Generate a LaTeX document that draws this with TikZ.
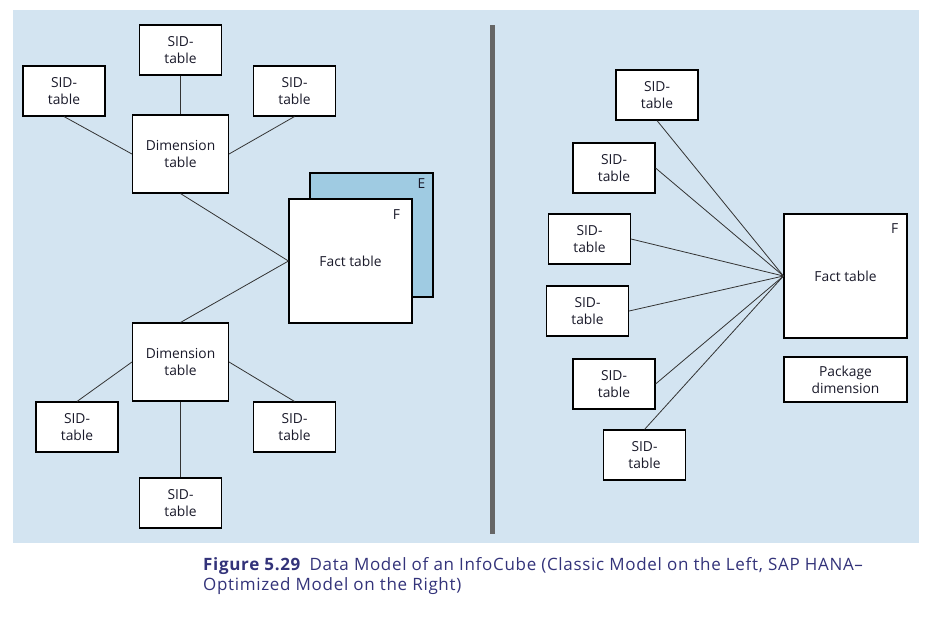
\documentclass[tikz,border=0pt]{standalone}
\usepackage{fontspec}
\setmainfont{Open Sans}
\newfontfamily\capfont[LetterSpace=4]{Open Sans}
\definecolor{bgblue}{HTML}{D3E4F1}
\definecolor{eblue}{HTML}{9FCBE2}
\definecolor{bar}{HTML}{666666}
\definecolor{capblue}{HTML}{33337A}
\definecolor{txt}{HTML}{1A1A2A}
\definecolor{conn}{HTML}{333333}
\begin{document}
\begin{tikzpicture}[x=1pt,y=-1pt,
  tbl/.style={draw=black,line width=1.1pt,fill=white,rectangle,inner sep=0pt,
    align=center,text=txt,font=\fontsize{13.8}{17}\selectfont},
  sid/.style={tbl,minimum width=82pt,minimum height=50pt},
  dimbox/.style={tbl,minimum width=96pt,minimum height=78pt},
  factbox/.style={tbl,minimum width=123pt,minimum height=124pt},
  lab/.style={text=txt,font=\fontsize{13.8}{17}\selectfont,inner sep=0pt},
  link/.style={draw=conn,line width=0.8pt}]
\useasboundingbox (0,0) rectangle (937,625);
\fill[white] (0,0) rectangle (937,625);
\fill[bgblue] (13,10) rectangle (919,543);
\draw[bar,line width=5pt] (492,25) -- (492,534);
% left side
\node[sid] (sA) at (180.5,50) {SID-\\table};
\node[sid] (sB) at (64,91) {SID-\\table};
\node[sid] (sC) at (294.5,91) {SID-\\table};
\node[dimbox] (d1) at (180.5,154) {Dimension\\table};
\node[factbox,fill=eblue] (E) at (371.5,235) {};
\node[lab] (Elab) at ([xshift=-12pt,yshift=-11pt]E.north east) {E};
\node[factbox] (F) at (350.5,261) {Fact table};
\node[lab] (Flab) at ([xshift=-16pt,yshift=-16pt]F.north east) {F};
\node[dimbox] (d2) at (180.5,362) {Dimension\\table};
\node[sid] (sD) at (77,427) {SID-\\table};
\node[sid] (sE) at (294.5,427) {SID-\\table};
\node[sid] (sF) at (180.5,503) {SID-\\table};
\draw[link] (sA.south) -- (d1.north);
\draw[link] (sB.south) -- (d1.west);
\draw[link] (sC.south) -- (d1.east);
\draw[link] (d1.south) -- (F.west);
\draw[link] (d2.north) -- (F.west);
\draw[link] (d2.west) -- (sD.north);
\draw[link] (d2.east) -- (sE.north);
\draw[link] (d2.south) -- (sF.north);
% right side
\node[sid] (r1) at (657,95) {SID-\\table};
\node[sid] (r2) at (614,168) {SID-\\table};
\node[sid] (r3) at (589.5,239) {SID-\\table};
\node[sid] (r4) at (587.5,311) {SID-\\table};
\node[sid] (r5) at (614,384) {SID-\\table};
\node[sid] (r6) at (644.5,455) {SID-\\table};
\node[factbox] (F2) at (845.5,276) {Fact table};
\node[lab] (F2lab) at ([xshift=-13pt,yshift=-15pt]F2.north east) {F};
\node[tbl,minimum width=123pt,minimum height=45pt] (pkg) at (845.5,379.5) {Package\\dimension};
\draw[link] (r1.south) -- (F2.west);
\draw[link] (r2.east) -- (F2.west);
\draw[link] (r3.east) -- (F2.west);
\draw[link] (r4.east) -- (F2.west);
\draw[link] (r5.east) -- (F2.west);
\draw[link] (r6.north) -- (F2.west);
% caption
\node[anchor=base west,inner sep=0pt,align=left,text=capblue,
  font=\capfont\fontsize{17}{20}\selectfont] (cap) at (203,590)
  {\textbf{Figure 5.29}\enspace Data Model of an InfoCube (Classic Model on the Left, SAP HANA–\\Optimized Model on the Right)};
\end{tikzpicture}
\end{document}
